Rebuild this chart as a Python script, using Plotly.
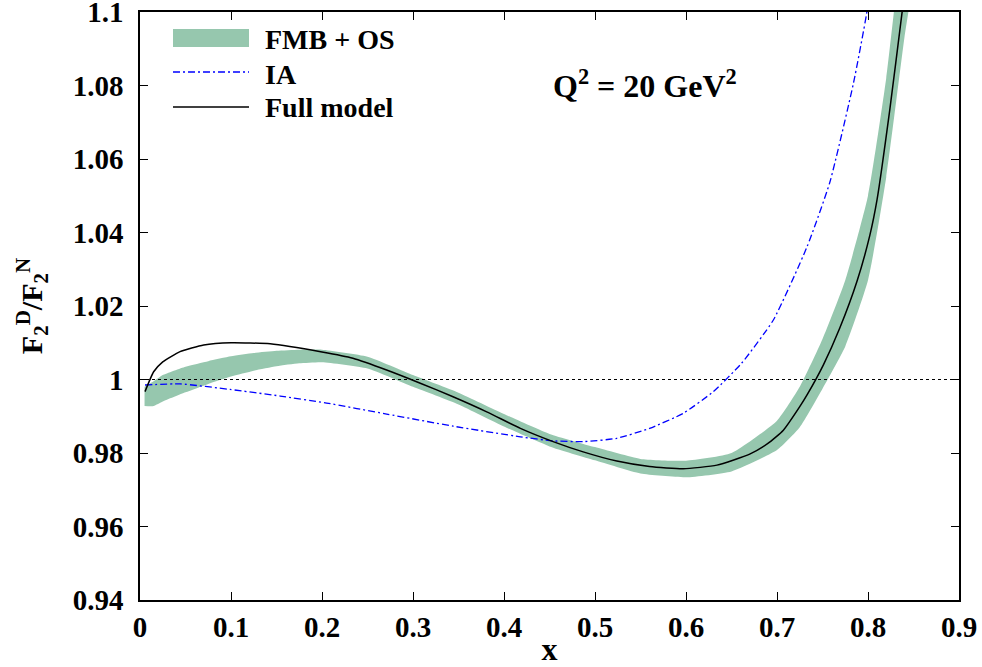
import plotly.graph_objects as go

# Full model (black solid)
full_x = [0.0055, 0.015, 0.025, 0.044, 0.07, 0.1, 0.143, 0.2, 0.234, 0.271, 0.308, 0.344, 0.381,
          0.418, 0.454, 0.487, 0.524, 0.56, 0.597, 0.634, 0.67, 0.69, 0.707, 0.725, 0.733, 0.751,
          0.769, 0.788, 0.802, 0.81, 0.824, 0.837, 0.845]
full_y = [0.9967, 1.0021, 1.0048, 1.0076, 1.0094, 1.0100, 1.0097, 1.0075, 1.0058, 1.0026, 0.9990,
          0.9953, 0.9912, 0.9867, 0.9831, 0.9803, 0.9778, 0.9763, 0.9757, 0.9767, 0.9797, 0.9826,
          0.9862, 0.9926, 0.9958, 1.0040, 1.0140, 1.0268, 1.0392, 1.0490, 1.0735, 1.0990, 1.115]

# IA (blue dash-dot)
ia_x = [0.0055, 0.044, 0.099, 0.154, 0.205, 0.271, 0.344, 0.418, 0.454, 0.487, 0.524, 0.56,
        0.597, 0.63, 0.661, 0.696, 0.733, 0.758, 0.784, 0.7985, 0.81]
ia_y = [0.9985, 0.9988, 0.9973, 0.9955, 0.9936, 0.9906, 0.9873, 0.9844, 0.9833, 0.9831, 0.9840,
        0.9867, 0.9908, 0.9967, 1.0044, 1.0162, 1.0361, 1.0536, 1.0806, 1.0996, 1.12]

# FMB + OS band
band_x = [0.005, 0.015, 0.025, 0.05, 0.075, 0.1, 0.125, 0.15, 0.175, 0.2, 0.25, 0.3, 0.35, 0.4,
          0.45, 0.5, 0.55, 0.6, 0.65, 0.7, 0.725, 0.75, 0.775, 0.8, 0.82, 0.84, 0.85]
band_lo = [0.9928, 0.9928, 0.9940, 0.9965, 0.9988, 1.0008, 1.0024, 1.0036, 1.0044, 1.0047, 1.0030,
           0.9980, 0.9932, 0.9872, 0.9818, 0.9780, 0.9744, 0.9734, 0.9750, 0.9808, 0.9870, 0.9975,
           1.0090, 1.0270, 1.0550, 1.0930, 1.11]
band_hi = [0.9980, 0.9995, 1.0012, 1.0035, 1.0050, 1.0063, 1.0072, 1.0078, 1.0081, 1.0081, 1.0062,
           1.0012, 0.9964, 0.9906, 0.9852, 0.9816, 0.9784, 0.9779, 0.9800, 0.9888, 0.9980, 1.0110,
           1.0270, 1.0500, 1.0820, 1.1250, 1.14]

x_ticks = [0, 0.1, 0.2, 0.3, 0.4, 0.5, 0.6, 0.7, 0.8, 0.9]
x_ticktext = ["0", "0.1", "0.2", "0.3", "0.4", "0.5", "0.6", "0.7", "0.8", "0.9"]
y_ticks = [0.94, 0.96, 0.98, 1.0, 1.02, 1.04, 1.06, 1.08, 1.1]
y_ticktext = ["0.94", "0.96", "0.98", "1", "1.02", "1.04", "1.06", "1.08", "1.1"]

FONT = "Liberation Serif"
GREEN = "rgb(150,199,174)"
L, R, T, B = 140, 23, 12, 67
PW, PH = 982 - L - R, 667 - T - B


def px(xp):
    return (xp - L) / PW


def py(yp):
    return 1 - (yp - T) / PH


fig = go.Figure()

fig.add_trace(go.Scatter(
    x=band_x + band_x[::-1], y=band_hi + band_lo[::-1],
    fill="toself", fillcolor=GREEN, line=dict(width=0, shape="spline", smoothing=0.5),
    mode="lines", hoverinfo="skip", showlegend=False))

fig.add_trace(go.Scatter(
    x=[0, 0.9], y=[1, 1], mode="lines",
    line=dict(color="black", width=1, dash="3px,3px"), showlegend=False))

fig.add_trace(go.Scatter(
    x=ia_x, y=ia_y, mode="lines",
    line=dict(color="rgb(0,0,255)", width=1.3, dash="7px,3px,2px,3px", shape="spline", smoothing=0.5),
    showlegend=False))

fig.add_trace(go.Scatter(
    x=full_x, y=full_y, mode="lines",
    line=dict(color="black", width=1.5, shape="spline", smoothing=0.5),
    showlegend=False))

# Manual legend (gnuplot style)
fig.add_shape(type="rect", xref="paper", yref="paper",
              x0=px(173), x1=px(249), y0=py(47), y1=py(29),
              fillcolor=GREEN, line=dict(width=0))
fig.add_shape(type="line", xref="paper", yref="paper",
              x0=px(173), x1=px(249), y0=py(72), y1=py(72),
              line=dict(color="rgb(0,0,255)", width=1.3, dash="7px,3px,2px,3px"))
fig.add_shape(type="line", xref="paper", yref="paper",
              x0=px(173), x1=px(249), y0=py(107), y1=py(107),
              line=dict(color="black", width=1.5))
legend_labels = ["FMB + OS", "IA", "Full model"]
legend_ys = [39, 74, 107]
for lab, yy in zip(legend_labels, legend_ys):
    fig.add_annotation(text="<b>%s</b>" % lab, xref="paper", yref="paper",
                       x=px(263), y=py(yy),
                       xanchor="left", yanchor="middle", showarrow=False,
                       font=dict(family=FONT, size=28, color="black"))

fig.add_annotation(text="<b>Q<sup>2</sup> = 20 GeV<sup>2</sup></b>", xref="paper", yref="paper",
                   x=px(645), y=py(84),
                   xanchor="center", yanchor="middle", showarrow=False,
                   font=dict(family=FONT, size=32, color="black"))

axis_common = dict(showline=True, linecolor="black", linewidth=1.5, mirror="allticks",
                   ticks="inside", ticklen=8, tickwidth=1.2, tickcolor="black",
                   showgrid=False, zeroline=False, automargin=False,
                   ticklabeloverflow="allow",
                   tickfont=dict(family=FONT, size=29, color="black"))

fig.update_xaxes(range=[0, 0.9], tickvals=x_ticks, ticktext=["<b>%s</b>" % t for t in x_ticktext],
                 title=dict(text="<b>x</b>", font=dict(family=FONT, size=32, color="black"), standoff=11),
                 **axis_common)
fig.update_yaxes(range=[0.94, 1.1], tickvals=y_ticks, ticktext=["<b>%s</b>" % t for t in y_ticktext],
                 ticklabelstandoff=9,
                 title=dict(text="<b>F<sub>2</sub><sup>D</sup>/F<sub>2</sub><sup>N</sup></b>",
                            font=dict(family=FONT, size=30, color="black"), standoff=21),
                 **axis_common)

fig.update_layout(width=982, height=667, plot_bgcolor="white", paper_bgcolor="white",
                  margin=dict(l=L, r=R, t=T, b=B, autoexpand=False), showlegend=False)

fig.write_html("out.html", config={"displayModeBar": False},
               post_script="document.body.style.margin='0px';")
